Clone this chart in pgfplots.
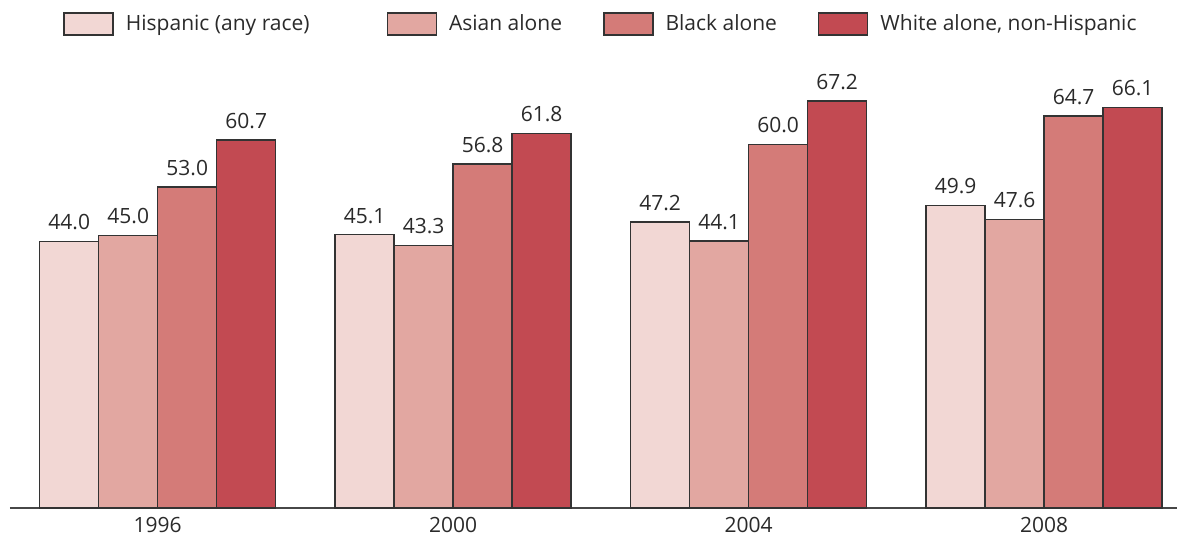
\documentclass[border=0pt]{standalone}
\usepackage{fontspec}
\setmainfont{Open Sans}
\usepackage{pgfplots}
\pgfplotsset{compat=1.18}

\definecolor{cHisp}{HTML}{F2D7D4}
\definecolor{cAsian}{HTML}{E2A7A1}
\definecolor{cBlack}{HTML}{D47B78}
\definecolor{cWhite}{HTML}{C24A52}
\definecolor{edge}{HTML}{333333}
\definecolor{txt}{HTML}{2A2A2A}

\begin{document}
\begin{tikzpicture}
\useasboundingbox (-5pt,-15pt) rectangle (583.5pt,254pt);
\begin{axis}[
    at={(0,0)}, anchor=south west,
    scale only axis,
    width=583.5pt, height=224.2pt,
    ybar=0pt, bar width=29.5pt,
    xmin=-0.5, xmax=3.45,
    ymin=0, ymax=74,
    axis x line=bottom, axis y line=none,
    x axis line style={-, draw=edge!90, line width=1pt},
    xtick=data, xticklabels={1996,2000,2004,2008},
    major tick length=0pt,
    tick label style={font=\fontsize{10.5}{12}\selectfont, text=txt},
    xticklabel style={yshift=-1pt},
    every axis plot/.append style={draw=edge, line width=0.75pt},
    nodes near coords,
    nodes near coords style={font=\fontsize{10.5}{12}\selectfont, text=txt, yshift=2pt,
        /pgf/number format/.cd, fixed, fixed zerofill, precision=1, assume math mode=true},
    legend columns=4,
    legend style={draw=none, fill=none, at={(axis description cs:0,1)}, anchor=west,
        xshift=26.5pt, yshift=17.8pt, inner sep=0pt,
        font=\fontsize{10.5}{12}\selectfont, text=txt,
        cells={anchor=west},
        /tikz/column 2/.style={column sep=36.5pt},
        /tikz/column 4/.style={column sep=18.5pt},
        /tikz/column 6/.style={column sep=18.5pt}},
    legend image code/.code={\draw[#1, line width=0.75pt] (0pt,-5.5pt) rectangle (24.5pt,5.5pt);},
    clip=false,
]
\addplot[fill=cHisp] coordinates {(0,44.0) (1,45.1) (2,47.2) (3,49.9)};
\addplot[fill=cAsian] coordinates {(0,45.0) (1,43.3) (2,44.1) (3,47.6)};
\addplot[fill=cBlack] coordinates {(0,53.0) (1,56.8) (2,60.0) (3,64.7)};
\addplot[fill=cWhite] coordinates {(0,60.7) (1,61.8) (2,67.2) (3,66.1)};
\legend{\hspace{4pt}Hispanic (any race), \hspace{4pt}Asian alone, \hspace{4pt}Black alone, {\hspace{4pt}White alone, non-Hispanic}}
\end{axis}
\end{tikzpicture}
\end{document}
